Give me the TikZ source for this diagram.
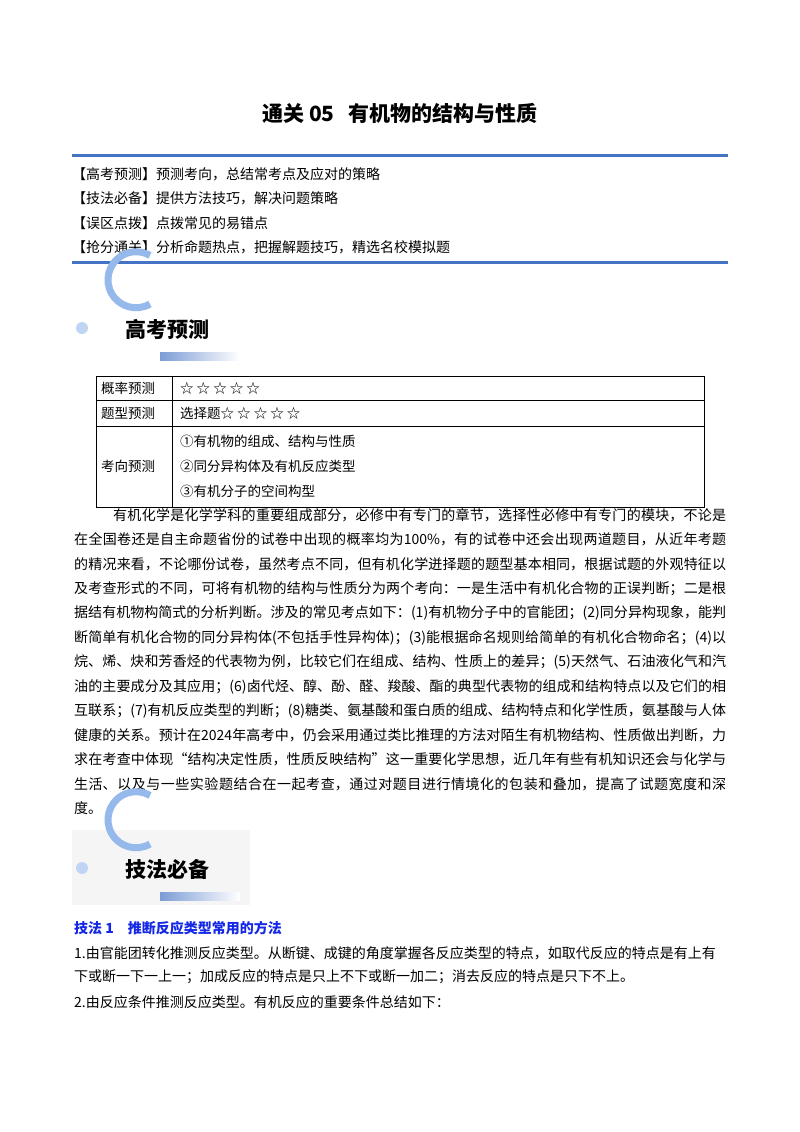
\documentclass[tikz,border=0pt]{standalone}
\usepackage{fontspec}
\setmainfont{Noto Sans CJK SC}
\XeTeXlinebreaklocale "zh"
\XeTeXlinebreakskip=0pt plus 3pt
\definecolor{hblue}{RGB}{68,114,196}
\definecolor{lblue}{RGB}{150,185,235}
\definecolor{tblue}{RGB}{20,40,230}
\begin{document}
\begin{tikzpicture}[x=1pt,y=-1pt,
  txt/.style={anchor=west,inner sep=0pt,font=\fontsize{14}{16}\selectfont},
  cell/.style={anchor=west,inner sep=0pt,font=\fontsize{13.5}{16}\selectfont},
  badge/.style={anchor=west,inner sep=0pt,font=\fontsize{21}{24}\selectfont\bfseries}]
\useasboundingbox[fill=white] (0,0) rectangle (800,1132);
\node[inner sep=0pt,font=\fontsize{21}{24}\selectfont\bfseries] (title) at (400,113) {通关 05\hspace{14pt}有机物的结构与性质};
\draw[hblue,line width=3pt] (72,155) -- (728,155);
\draw[hblue,line width=3pt] (72,262) -- (728,262);
\node[txt] (h1) at (72,174) {【高考预测】预测考向，总结常考点及应对的策略};
\node[txt] (h2) at (72,198) {【技法必备】提供方法技巧，解决问题策略};
\node[txt] (h3) at (72,223) {【误区点拨】点拨常见的易错点};
\node[txt] (h4) at (72,247) {【抢分通关】分析命题热点，把握解题技巧，精选名校模拟题};
% badge 1
\begin{scope}
\fill[lblue!60] (82,328) circle (6);
\draw[lblue,line width=7pt] (150,304) arc (60:300:28);
\shade[left color=hblue!70,right color=white] (160,352) rectangle (240,360);
\node[badge] (b1) at (125,329) {高考预测};
\end{scope}
% table
\draw (96,376) rectangle (704,507);
\draw (172,376) -- (172,507);
\draw (96,400) -- (704,400);
\draw (96,426) -- (704,426);
\node[cell] (t1) at (101,388) {概率预测};
\node[cell] (t2) at (180,388) {☆ ☆ ☆ ☆ ☆};
\node[cell] (t3) at (101,413) {题型预测};
\node[cell] (t4) at (180,413) {选择题☆ ☆ ☆ ☆ ☆};
\node[cell] (t5) at (101,466) {考向预测};
\node[cell] (t6) at (180,441) {①有机物的组成、结构与性质};
\node[cell] (t7) at (180,466) {②同分异构体及有机反应类型};
\node[cell] (t8) at (180,491) {③有机分子的空间构型};
% paragraph
\node[anchor=north west,inner sep=0pt,text width=652pt,align=justify,font=\fontsize{14}{24.45}\selectfont] (para) at (74,508) {\hspace*{39pt}有机化学是化学学科的重要组成部分，必修中有专门的章节，选择性必修中有专门的模块，不论是\linebreak
在全国卷还是自主命题省份的试卷中出现的概率均为100\%，有的试卷中还会出现两道题目，从近年考题\linebreak
的精况来看，不论哪份试卷，虽然考点不同，但有机化学迸择题的题型基本相同，根据试题的外观特征以\linebreak
及考查形式的不同，可将有机物的结构与性质分为两个考向：一是生活中有机化合物的正误判断；二是根\linebreak
据结有机物构简式的分析判断。涉及的常见考点如下：(1)有机物分子中的官能团；(2)同分异构现象，能判\linebreak
断简单有机化合物的同分异构体(不包括手性异构体)；(3)能根据命名规则给简单的有机化合物命名；(4)以\linebreak
烷、烯、炔和芳香烃的代表物为例，比较它们在组成、结构、性质上的差异；(5)天然气、石油液化气和汽\linebreak
油的主要成分及其应用；(6)卤代烃、醇、酚、醛、羧酸、酯的典型代表物的组成和结构特点以及它们的相\linebreak
互联系；(7)有机反应类型的判断；(8)糖类、氨基酸和蛋白质的组成、结构特点和化学性质，氨基酸与人体\linebreak
健康的关系。预计在2024年高考中，仍会采用通过类比推理的方法对陌生有机物结构、性质做出判断，力\linebreak
求在考查中体现“结构决定性质，性质反映结构”这一重要化学思想，近几年有些有机知识还会与化学与\linebreak
生活、以及与一些实验题结合在一起考查，通过对题目进行情境化的包装和叠加，提高了试题宽度和深\linebreak
度。};
% badge 2
\fill[gray!8] (72,830) rectangle (250,905);
\fill[lblue!60] (82,868) circle (6);
\draw[lblue,line width=7pt] (150,844) arc (60:300:28);
\shade[left color=hblue!70,right color=white] (160,892) rectangle (240,900);
\node[badge] (b2) at (125,869) {技法必备};
% section
\node[txt,text=tblue,font=\fontsize{14}{16}\selectfont\bfseries] (s1) at (74,928) {技法 1\hspace{14pt}推断反应类型常用的方法};
\node[txt] (l1) at (74,953) {1.由官能团转化推测反应类型。从断键、成键的角度掌握各反应类型的特点，如取代反应的特点是有上有};
\node[txt] (l2) at (74,977) {下或断一下一上一；加成反应的特点是只上不下或断一加二；消去反应的特点是只下不上。};
\node[txt] (l3) at (74,1002) {2.由反应条件推测反应类型。有机反应的重要条件总结如下：};
\end{tikzpicture}
\end{document}
